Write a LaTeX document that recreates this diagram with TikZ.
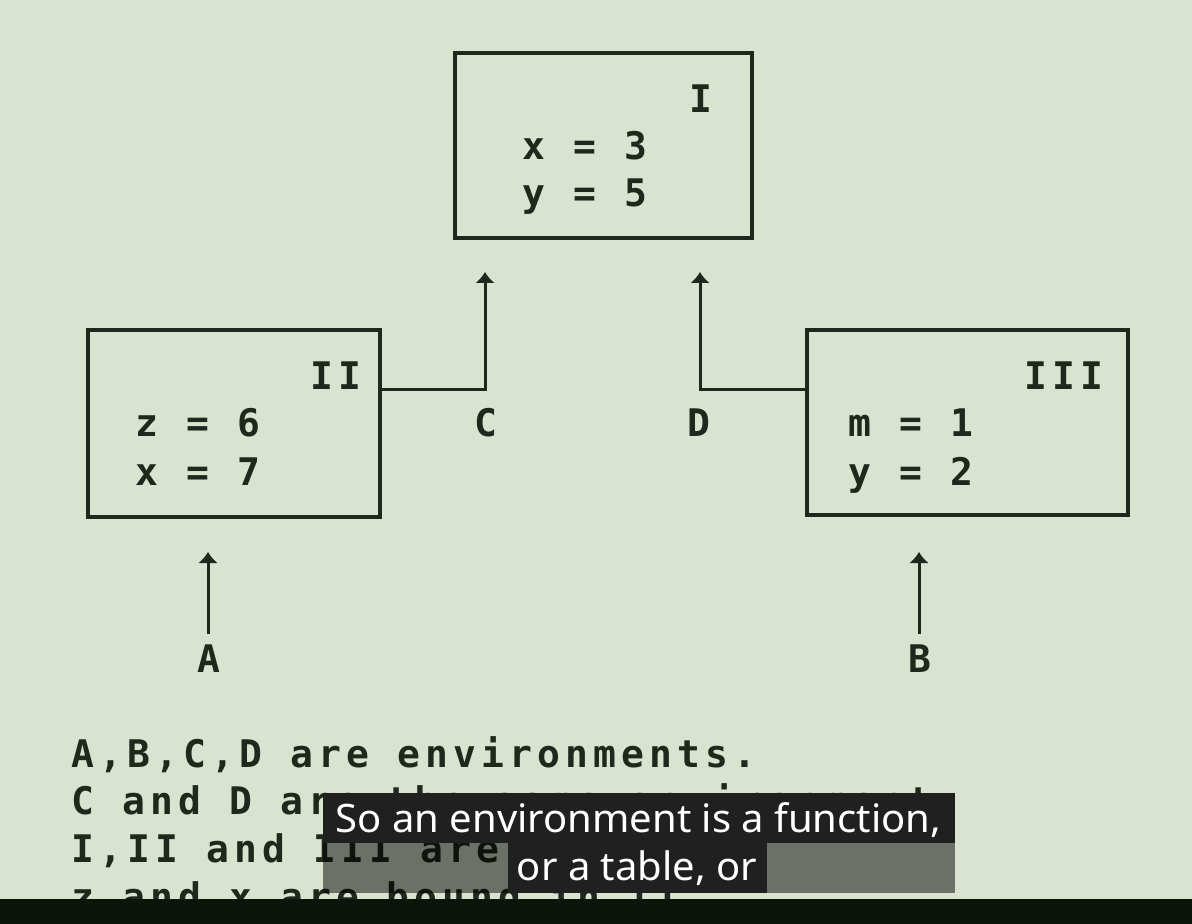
\documentclass[tikz,border=0pt]{standalone}
\usepackage{fontspec}
\usepackage{graphicx}
\usetikzlibrary{arrows.meta}
\newfontfamily\termfont[LetterSpace=13.5]{DejaVu Sans Mono}
\newfontfamily\subfont{Noto Sans}
\definecolor{bg}{HTML}{D9E3CF}
\definecolor{ink}{HTML}{1F281C}
\definecolor{subdark}{HTML}{202020}
\definecolor{barc}{HTML}{0C140C}
\tikzset{
  frame/.style={draw=ink, line width=1.6pt, inner sep=0pt},
  txt/.style={font=\termfont\bfseries\fontsize{19pt}{22pt}\selectfont, text=ink, inner sep=0pt, anchor=base west},
  conn/.style={draw=ink, line width=1.5pt, -{Latex[length=5.5pt,width=10pt]}},
  subtxt/.style={font=\subfont\fontsize{19.6pt}{24pt}\selectfont, text=white, inner sep=0pt, anchor=base},
}
\begin{document}
\begin{tikzpicture}[x=0.5pt,y=-0.5pt]
\useasboundingbox (0,0) rectangle (1192,924);
\fill[bg] (0,0) rectangle (1192,924);

% frames
\node[frame, minimum width=148.5pt, minimum height=92.5pt] (I) at (603.5,145.5) {};
\node[frame, minimum width=146pt, minimum height=93.5pt] (II) at (234,423.5) {};
\node[frame, minimum width=160.5pt, minimum height=92.5pt] (III) at (967.5,422.5) {};

% frame texts
\node[txt] (Ilab) at (689,113) {I};
\node[txt] (Ix) at (522,160) {x = 3};
\node[txt] (Iy) at (522,207) {y = 5};
\node[txt] (IIlab) at (310,390) {II};
\node[txt] (IIz) at (135,437) {z = 6};
\node[txt] (IIx) at (135,485) {x = 7};
\node[txt] (IIIlab) at (1024,390) {III};
\node[txt] (IIIm) at (848,437) {m = 1};
\node[txt] (IIIy) at (848,485) {y = 2};

% environment labels
\node[txt] (C) at (474,437) {C};
\node[txt] (D) at (687,437) {D};
\node[txt] (A) at (197,672) {A};
\node[txt] (B) at (908,672) {B};

% connectors
\coordinate (Ctip) at (485,272);
\coordinate (Dtip) at (700,272);
\coordinate (Atip) at (208,552);
\coordinate (Btip) at (919,552);
\draw[conn] ([yshift=16.75pt]II.east) -| (Ctip);
\draw[conn] ([yshift=16.25pt]III.west) -| (Dtip);
\draw[conn] ([yshift=5pt]A.north -| Atip) -- (Atip);
\draw[conn] ([yshift=5pt]B.north -| Btip) -- (Btip);

% notes
\node[txt] (n1) at (71,767) {A,B,C,D are environments.};
\node[txt] (n2) at (71,814) {C and D are the same environment.};
\node[txt] (n3) at (71,862) {I,II and III are frames.};
\node[txt] (n4) at (71,910) {z and x are bound in II.};

% subtitle
\fill[subdark] (323,793) rectangle (955,843);
\fill[black, opacity=0.5] (323,843) rectangle (955,893);
\fill[subdark] (508,843) rectangle (767,893);
\node[subtxt] (s1) at (638.5,832) {\scalebox{1.02}[1]{So an environment is a function,}};
\node[subtxt] (s2) at (637,880) {\scalebox{1.02}[1]{or a table, or}};

% bottom bar
\fill[barc] (0,899) rectangle (1192,924);
\end{tikzpicture}
\end{document}
